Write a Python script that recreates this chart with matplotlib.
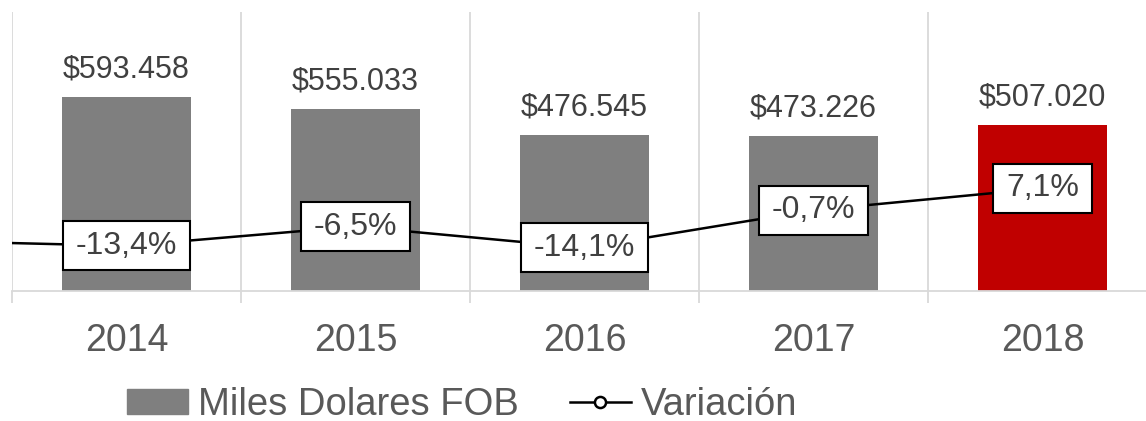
import numpy as np
import matplotlib
matplotlib.use("Agg")
import matplotlib.pyplot as plt
from matplotlib.lines import Line2D
from matplotlib.patches import Patch

plt.rcParams['font.family'] = ['Liberation Sans', 'DejaVu Sans']

years = ['2014', '2015', '2016', '2017', '2018']
fob = [593458, 555033, 476545, 473226, 507020]
variacion = [-13.4, -6.5, -14.1, -0.7, 7.1]
# previous year's variation, only its segment reaches into the chart
variacion_prev = -11.4

bar_colors = ['#7f7f7f', '#7f7f7f', '#7f7f7f', '#7f7f7f', '#c00000']
grid_color = '#d9d9d9'
label_color = '#404040'
tick_color = '#595959'

fig = plt.figure(figsize=(11.46, 4.21), dpi=100)
W, H = 1146, 421
ax = fig.add_axes([12 / W, 1 - 291 / H, 1145 / W, 279 / H])

x = np.arange(len(years))
bars = ax.bar(x, fob, width=0.56, color=bar_colors, zorder=2)
ax.set_xlim(-0.5, len(years) - 0.5)
ax.set_ylim(0, 852000)

for xi, v in zip(x, fob):
    ax.annotate(f"${v:,.0f}".replace(',', '.'), (xi, v), xytext=(0, 9),
                textcoords='offset points', ha='center', va='bottom',
                fontsize=22, color=label_color)

ax.set_xticks(x)
ax.set_xticklabels(years, fontsize=27, color=tick_color)
ax.set_xticks(np.arange(-0.5, len(years)), minor=True)
ax.tick_params(axis='x', which='major', length=0, pad=23)
ax.tick_params(axis='x', which='minor', length=8.5, color=grid_color, width=1.3)
ax.grid(which='minor', axis='x', color=grid_color, lw=1.3, zorder=0)
ax.set_yticks([])
for s in ['top', 'left', 'right']:
    ax.spines[s].set_visible(False)
ax.spines['bottom'].set_color(grid_color)
ax.spines['bottom'].set_linewidth(1.3)

ax2 = ax.twinx()
ax2.set_ylim(-29.5, 70)
ax2.set_yticks([])
for s in ax2.spines.values():
    s.set_visible(False)
ax2.plot(np.concatenate([[-1], x]), [variacion_prev] + variacion,
         color='black', lw=1.8, zorder=3)
ax2.plot(x, variacion, ls='none', marker='o', ms=7, mfc='white',
         mec='black', zorder=3)
for xi, v in zip(x, variacion):
    ax2.text(xi, v, f"{v:.1f}%".replace('.', ','), ha='center', va='center',
             fontsize=23, color=label_color, zorder=4,
             bbox=dict(boxstyle='square,pad=0.4', mutation_aspect=0.75,
                       fc='white', ec='black', lw=1.5))
ax2.set_xlim(-0.5, len(years) - 0.5)

handles = [Patch(color='#7f7f7f'),
           Line2D([0], [0], color='black', lw=1.8, marker='o', ms=8,
                  mfc='white', mec='black', mew=1.8)]
fig.legend(handles, ['Miles Dolares FOB', 'Variación'], loc='center',
           bbox_to_anchor=(462 / W, 1 - 405 / H), ncol=2, frameon=False,
           fontsize=27.5, labelcolor=tick_color, handlelength=1.6,
           handleheight=0.6, handletextpad=0.25, columnspacing=1.35,
           borderpad=0)

fig.savefig('out.png', dpi=100)
